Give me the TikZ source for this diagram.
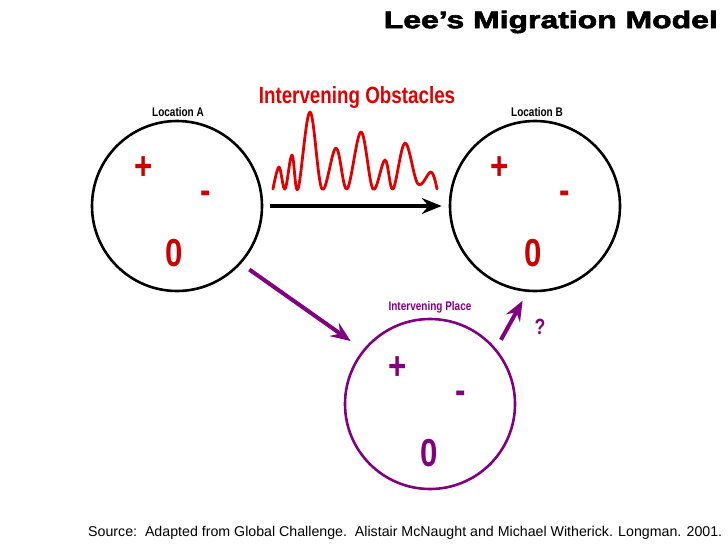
\documentclass[tikz,border=0pt]{standalone}
\usepackage{fontspec}
\setmainfont{Liberation Sans}
\newfontfamily\narrowfont[FakeStretch=0.8]{Liberation Sans Bold}
\newfontfamily\titlefont[FakeStretch=1.33,FakeBold=2.6]{Liberation Sans Bold}
\usetikzlibrary{arrows.meta}
\definecolor{leered}{HTML}{CC0000}
\definecolor{obstred}{HTML}{E00000}
\definecolor{leepurple}{HTML}{800080}
\begin{document}
\begin{tikzpicture}[x=1pt, y=-1pt,
  place/.style={draw,circle,line width=2.6pt,minimum size=170pt,inner sep=0pt},
  sign/.style={font=\narrowfont\fontsize{39}{39}\selectfont,inner sep=0pt},
  tag/.style={font=\narrowfont\fontsize{12.5}{12.5}\selectfont,inner sep=0pt},
  flow/.style={line width=4pt,-{Stealth[length=20pt,width=16pt,inset=7pt]}}]
\useasboundingbox (0,0) rectangle (728,546);
% locations
\node[place] (locA) at (177,206) {};
\node[place] (locB) at (535,206) {};
\node[place,leepurple] (mid) at (430,404) {};
\node[tag] (labA) at (178,112) {Location A};
\node[tag] (labB) at (537,112) {Location B};
\node[tag,leepurple] (labM) at (430,307) {Intervening Place};
% plus, minus, zero
\node[sign,leered] (plusA) at (144,168) {+};
\node[sign,leered] (minusA) at (206,197) {-};
\node[sign,leered] (zeroA) at (174,253) {0};
\node[sign,leered] (plusB) at (500,168) {+};
\node[sign,leered] (minusB) at (565,197) {-};
\node[sign,leered] (zeroB) at (533,253) {0};
\node[sign,leepurple] (plusM) at (398,368) {+};
\node[sign,leepurple] (minusM) at (461,397) {-};
\node[sign,leepurple] (zeroM) at (429,453) {0};
% obstacles
\node[font=\narrowfont\fontsize{23.5}{23.5}\selectfont,obstred,inner sep=0pt] (obst) at (357,97) {Intervening Obstacles};
\draw[obstred,line width=2.8pt,line cap=round,line join=round] plot[smooth,tension=0.6] coordinates {
  (273,189) (279,167) (285,189) (292,155) (298,189) (310,112) (322,189)
  (336,148) (347,189) (361,132) (373,189) (385,160) (393,189) (405,143)
  (418,184) (431,172) (437,189)};
% migration flows
\draw[flow] (locA.east) -- (locB.west) [shorten <=7pt,shorten >=7pt];
\draw[flow,leepurple] (locA.-42) -- (mid.141) [shorten <=10pt,shorten >=15pt];
\draw[flow,leepurple] (mid.40) -- (locB.-95) [shorten <=10pt,shorten >=10pt];
\node[sign,leepurple,font=\narrowfont\fontsize{22}{22}\selectfont] (query) at (540,327) {?};
% title and source
\node[font=\titlefont\fontsize{24}{24}\selectfont,anchor=east,inner sep=0pt] (title) at (718,22) {Lee’s Migration Model};
\node[font=\fontsize{14.2}{14.2}\selectfont,anchor=west,inner sep=0pt] (source) at (88,533) {Source:\ \ Adapted from Global Challenge.\ \ Alistair McNaught and Michael Witherick. Longman. 2001.};
\end{tikzpicture}
\end{document}
